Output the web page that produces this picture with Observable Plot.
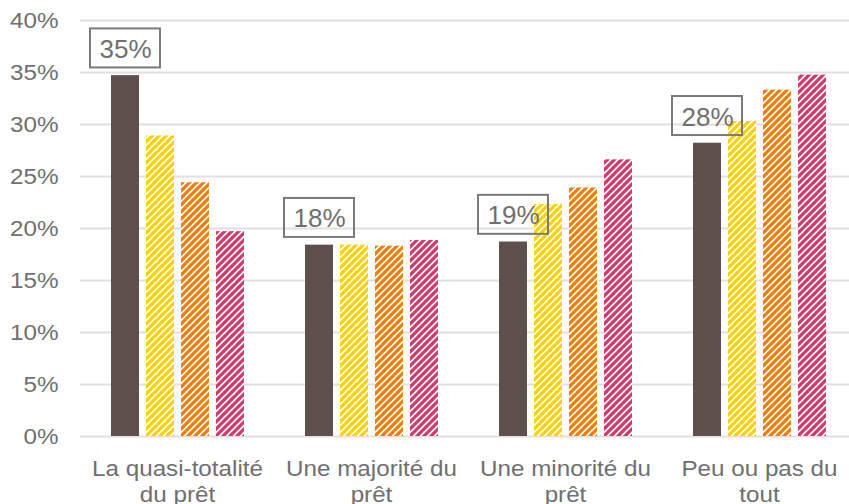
<!DOCTYPE html>
<html><head><meta charset="utf-8">
<script src="https://cdn.jsdelivr.net/npm/d3@7"></script>
<script src="https://cdn.jsdelivr.net/npm/@observablehq/plot@0.6"></script>
<style>body{margin:0;background:#fff} svg{overflow:visible}</style>
</head><body><div id="chart"></div>
<script>
const categories = ["La quasi-totalité\ndu prêt", "Une majorité du\nprêt", "Une minorité du\nprêt", "Peu ou pas du\ntout"];
const seriesNames = ["Série 1", "Série 2", "Série 3", "Série 4"];
const serie1 = [34.7, 18.4, 18.7, 28.2];
const serie2 = [28.9, 18.4, 22.3, 30.3];
const serie3 = [24.4, 18.3, 23.9, 33.3];
const serie4 = [19.7, 18.85, 26.6, 34.75];
const yTicks = [0, 5, 10, 15, 20, 25, 30, 35, 40];

const allSeries = [serie1, serie2, serie3, serie4];
const data = categories.flatMap((c, i) => seriesNames.map((s, j) => ({group: c, series: s, value: allSeries[j][i]})));
const labels = categories.map((c, i) => ({group: c, series: seriesNames[0], value: serie1[i]}));

const textColor = "#6f6f6f";
const chart = Plot.plot({
  width: 849, height: 504,
  marginTop: 20, marginBottom: 68, marginLeft: 79, marginRight: 0,
  style: {fontFamily: "'Liberation Sans', Arial, sans-serif", background: "white"},
  fx: {domain: categories, range: [79, 857], padding: 0},
  x: {domain: seriesNames, paddingInner: 0.2, paddingOuter: 0.87, axis: null},
  y: {domain: [0, 40]},
  color: {domain: seriesNames, range: ["#5e514d", "url(#pat-yellow)", "url(#pat-orange)", "url(#pat-pink)"]},
  marks: [
    Plot.ruleY(yTicks, {stroke: "#e4dede", strokeWidth: 1.8}),
    Plot.barY(data, {fx: "group", x: "series", y: "value", fill: "series"}),
    Plot.barY(labels, {fx: "group", x: "series", y1: d => d.value + 0.74, y2: d => d.value + 4.49,
      fill: "none", stroke: "#7a7a7a", strokeWidth: 2, insetLeft: -21, insetRight: -21}),
    Plot.text(labels, {fx: "group", x: "series", y: "value", text: d => Math.round(d.value) + "%",
      dy: -26, fontSize: 26, fill: textColor}),
    Plot.axisY({ticks: yTicks, tickFormat: d => d + "%", tickSize: 0, tickPadding: 22, fontSize: 22, fill: textColor, label: null}),
    Plot.axisFx({anchor: "bottom", tickSize: 0, tickPadding: 22, fontSize: 22, lineHeight: 1.15, fill: textColor, label: null})
  ]
});

const ns = "http://www.w3.org/2000/svg";
const defs = document.createElementNS(ns, "defs");
const pats = [["pat-yellow", "#ffd000"], ["pat-orange", "#f07c00"], ["pat-pink", "#d23a6a"]];
for (const [id, col] of pats) {
  const p = document.createElementNS(ns, "pattern");
  p.setAttribute("id", id);
  p.setAttribute("patternUnits", "userSpaceOnUse");
  p.setAttribute("width", 7);
  p.setAttribute("height", 7);
  const r = document.createElementNS(ns, "rect");
  r.setAttribute("width", 7); r.setAttribute("height", 7); r.setAttribute("fill", "white");
  p.appendChild(r);
  const path = document.createElementNS(ns, "path");
  path.setAttribute("d", "M-1,1 L1,-1 M0,7 L7,0 M6,8 L8,6");
  path.setAttribute("stroke", col);
  path.setAttribute("stroke-width", 3.2);
  p.appendChild(path);
  defs.appendChild(p);
}
chart.insertBefore(defs, chart.firstChild);
document.getElementById("chart").appendChild(chart);

// slight horizontal stretch of axis texts, as in the reference
chart.querySelectorAll('g[aria-label="y-axis tick label"] text, g[aria-label="fx-axis tick label"] text').forEach(t => {
  const spans = t.querySelectorAll("tspan");
  const els = spans.length ? Array.from(spans) : [t];
  els.forEach(el => {
    const L = el.getComputedTextLength();
    el.setAttribute("textLength", (L * 1.1).toFixed(1));
    el.setAttribute("lengthAdjust", "spacingAndGlyphs");
  });
});
</script>
</body></html>
